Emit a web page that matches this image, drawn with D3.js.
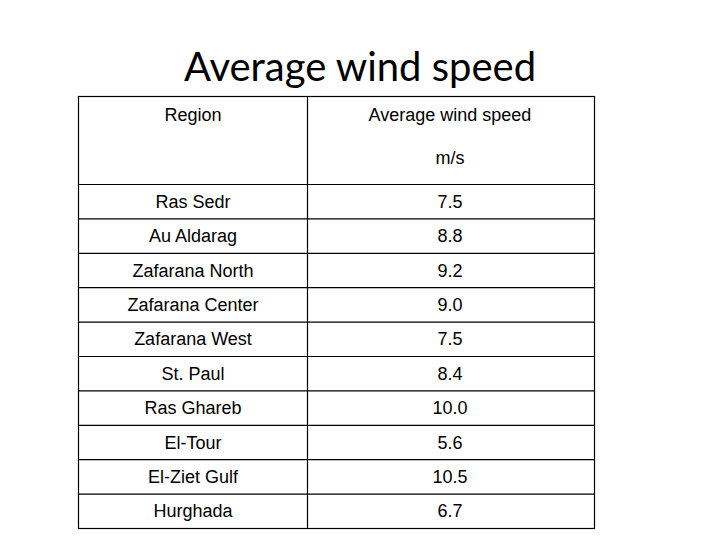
<!DOCTYPE html><html><head><meta charset="utf-8">
<script src="https://cdn.jsdelivr.net/npm/d3@7"></script>
<style>body{margin:0;background:#fff}</style></head><body>
<script>
const regions=["Ras Sedr","Au Aldarag","Zafarana North","Zafarana Center","Zafarana West","St. Paul","Ras Ghareb","El-Tour","El-Ziet Gulf","Hurghada"];
const speeds=["7.5","8.8","9.2","9.0","7.5","8.4","10.0","5.6","10.5","6.7"];
const headers=["Region","Average wind speed"];
const unit="m/s";
(function(){
const W=720,H=540;
const svg=d3.select("body").append("svg").attr("width",W).attr("height",H);
const x0=78.5,x1=594.5,xm=307.5,tY=96.5,hb=184.5,bot=528.5;
svg.append("text").attr("x",360).attr("y",81).attr("text-anchor","middle")
 .attr("font-family","Lato, 'Open Sans', sans-serif").attr("font-size",40).attr("fill","#000").text("Average wind speed");
const y=d3.scaleBand().domain(regions).range([hb,bot]);
const g=svg.append("g").attr("stroke","#000").attr("stroke-width",1.2);
g.append("rect").attr("x",x0).attr("y",tY).attr("width",x1-x0).attr("height",bot-tY).attr("fill","none");
g.append("line").attr("x1",xm).attr("x2",xm).attr("y1",tY).attr("y2",bot);
g.append("line").attr("x1",x0).attr("x2",x1).attr("y1",hb).attr("y2",hb);
g.selectAll("line.r").data(regions.slice(1)).join("line").attr("class","r")
 .attr("x1",x0).attr("x2",x1).attr("y1",d=>y(d)).attr("y2",d=>y(d));
const font="'Liberation Sans', Arial, sans-serif";
const t=svg.append("g").attr("font-family",font).attr("font-size",18).attr("fill","#000").attr("text-anchor","middle");
t.append("text").attr("x",193).attr("y",121).text(headers[0]);
t.append("text").attr("x",450).attr("y",121).text(headers[1]);
t.append("text").attr("x",450).attr("y",164).text(unit);
t.selectAll("text.a").data(regions).join("text").attr("class","a")
 .attr("x",193).attr("y",d=>y(d)+y.bandwidth()/2+6).text(d=>d);
t.selectAll("text.b").data(speeds).join("text").attr("class","b")
 .attr("x",450).attr("y",(d,i)=>y(regions[i])+y.bandwidth()/2+6).text(d=>d);
})();
</script></body></html>
